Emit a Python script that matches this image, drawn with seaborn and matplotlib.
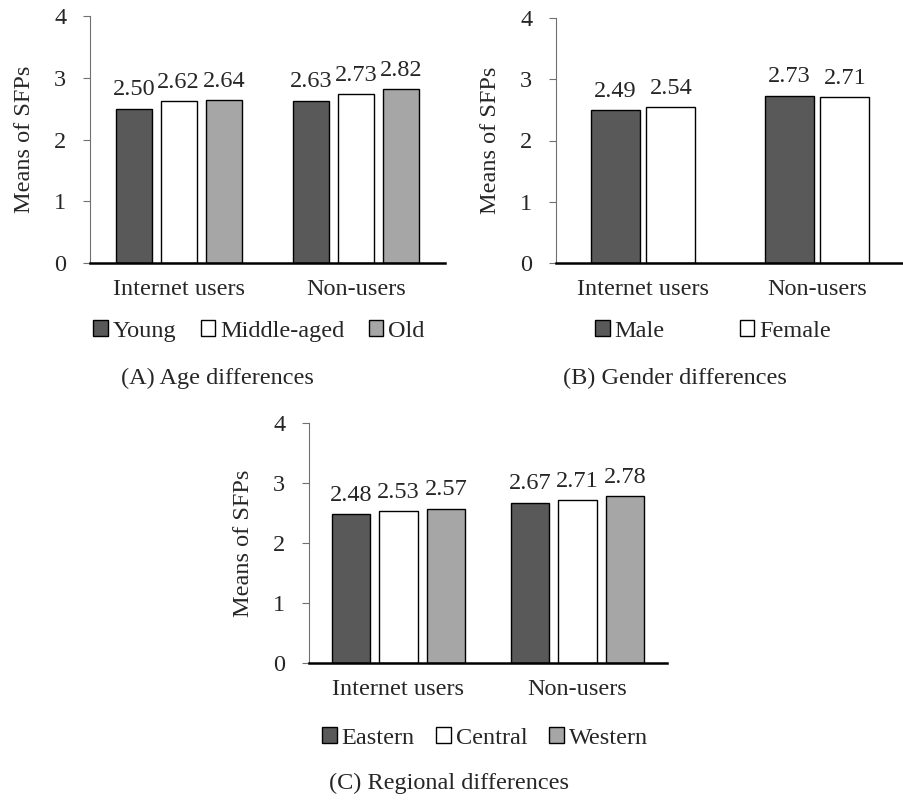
import matplotlib
matplotlib.use("Agg")
import matplotlib.pyplot as plt
from matplotlib.patches import Patch
import seaborn as sns
import pandas as pd

# ---------------------------------------------------------------------------
# Data
# ---------------------------------------------------------------------------

groups = ["Internet users", "Non-users"]

age_levels = ["Young", "Middle-aged", "Old"]
age_internet = [2.50, 2.62, 2.64]
age_nonusers = [2.63, 2.73, 2.82]

gender_levels = ["Male", "Female"]
gender_internet = [2.49, 2.54]
gender_nonusers = [2.73, 2.71]

region_levels = ["Eastern", "Central", "Western"]
region_internet = [2.48, 2.53, 2.57]
region_nonusers = [2.67, 2.71, 2.78]

DARK = "#595959"
WHITE = "#ffffff"
LIGHT = "#a6a6a6"

sns.set_style("white")
plt.rcParams["font.family"] = ["Liberation Serif", "DejaVu Serif"]
plt.rcParams["font.size"] = 17.5

W, H = 904, 801
fig = plt.figure(figsize=(W / 100, H / 100), dpi=100)


def px_axes(x0, x1, ytop, ybot):
    return fig.add_axes([x0 / W, 1 - ybot / H, (x1 - x0) / W, (ybot - ytop) / H])


def make_frame(levels, internet, nonusers):
    rows = []
    for lvl, a, b in zip(levels, internet, nonusers):
        rows.append({"group": groups[0], "level": lvl, "mean": a})
        rows.append({"group": groups[1], "level": lvl, "mean": b})
    return pd.DataFrame(rows)


def panel(ax, levels, internet, nonusers, colors, width, gap, legend_x, legend_y,
          caption, cap_x, cap_y, colspace):
    df = make_frame(levels, internet, nonusers)
    sns.barplot(data=df, x="group", y="mean", hue="level", order=groups,
                hue_order=levels, palette=colors, width=width, gap=gap,
                edgecolor="black", linewidth=1.0, saturation=1, ax=ax,
                legend=False)
    for cont in ax.containers:
        ax.bar_label(cont, fmt="%.2f", padding=6, fontsize=17.5)
    ax.set_ylim(0, 4)
    ax.set_yticks([0, 1, 2, 3, 4])
    ax.set_xlabel("")
    ax.set_ylabel("Means of SFPs", fontsize=17.5, labelpad=14)
    for s in ["top", "right"]:
        ax.spines[s].set_visible(False)
    ax.spines["left"].set_color("#707070")
    ax.spines["left"].set_linewidth(0.8)
    ax.spines["bottom"].set_color("black")
    ax.spines["bottom"].set_linewidth(1.8)
    ax.tick_params(axis="y", left=True, length=5, width=0.8, color="#707070",
                   pad=12, labelsize=17.5)
    ax.tick_params(axis="x", bottom=False, pad=8, labelsize=17.5)

    handles = [Patch(facecolor=c, edgecolor="black", linewidth=1.0) for c in colors]
    fig.legend(handles, levels, loc="center",
               bbox_to_anchor=(legend_x / W, 1 - legend_y / H), ncol=len(levels),
               frameon=False, handlelength=0.6, handleheight=0.6,
               handletextpad=0.2, columnspacing=colspace, fontsize=17.5)
    fig.text(cap_x / W, 1 - cap_y / H, caption, ha="center", va="center",
             fontsize=17.5)


axA = px_axes(90, 445, 16, 263)
panel(axA, age_levels, age_internet, age_nonusers, [DARK, WHITE, LIGHT],
      0.76, 0.2, 259, 331, "(A) Age differences", 217, 378, 1.0)

axB = px_axes(556, 904, 18, 263)
panel(axB, gender_levels, gender_internet, gender_nonusers, [DARK, WHITE],
      0.64, 0.12, 713, 331, "(B) Gender differences", 675, 378, 3.1)

axC = px_axes(309, 667, 423, 663)
panel(axC, region_levels, region_internet, region_nonusers, [DARK, WHITE, LIGHT],
      0.8, 0.2, 485, 738, "(C) Regional differences", 449, 783, 0.9)

fig.savefig("out.png", dpi=100)
